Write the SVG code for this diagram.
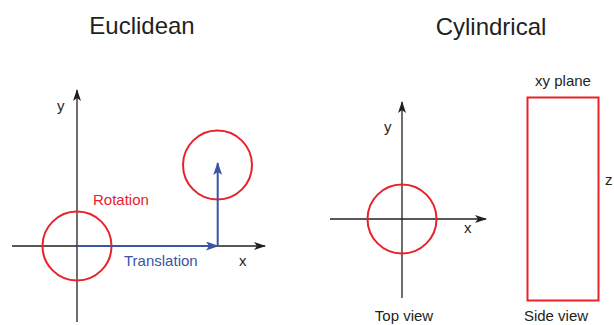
<svg xmlns="http://www.w3.org/2000/svg" width="614" height="325" viewBox="0 0 614 325">
<defs>
<style>
text{font-family:"Liberation Sans",Arial,sans-serif;fill:#231f20}
.title{font-size:24px;text-anchor:middle}
.lbl{font-size:15px}
.axis{stroke:#231f20;stroke-width:1.3;fill:none}
.red{stroke:#e8222b;stroke-width:2;fill:none}
.blue{stroke:#3b54a5;stroke-width:2;fill:none}
</style>
<marker id="ak" viewBox="0 0 12 8" refX="11" refY="4" markerWidth="12" markerHeight="8" markerUnits="userSpaceOnUse" orient="auto">
<path d="M0,0 L12,4 L0,8 L3,4 Z" fill="#231f20"/>
</marker>
<marker id="ab" viewBox="0 0 13 9" refX="12" refY="4.5" markerWidth="13" markerHeight="9" markerUnits="userSpaceOnUse" orient="auto">
<path d="M0,0 L13,4.5 L0,9 L3,4.5 Z" fill="#3b54a5"/>
</marker>
</defs>
<text class="title" x="142" y="34">Euclidean</text>
<text class="title" x="491" y="35">Cylindrical</text>
<g id="euclid-axes">
<line class="axis" x1="77" y1="322" x2="77" y2="90" marker-end="url(#ak)"/>
<line class="axis" x1="12" y1="246" x2="265" y2="246" marker-end="url(#ak)"/>
<text class="lbl" x="57" y="111">y</text>
<text class="lbl" x="239" y="266">x</text>
</g>
<g id="circle-origin"><circle class="red" cx="77" cy="246" r="34.5"/></g>
<g id="circle-moved"><circle class="red" cx="217.5" cy="165" r="34.5"/></g>
<g id="connectors">
<line class="blue" x1="77" y1="246" x2="218" y2="246" marker-end="url(#ab)"/>
<line class="blue" x1="217.7" y1="246" x2="217.7" y2="163" marker-end="url(#ab)"/>
</g>
<text class="lbl" x="93" y="205" style="fill:#e8222b">Rotation</text>
<text class="lbl" x="124" y="266" style="fill:#3b54a5">Translation</text>
<g id="top-view">
<line class="axis" x1="402" y1="298" x2="402" y2="102" marker-end="url(#ak)"/>
<line class="axis" x1="330" y1="219" x2="486" y2="219" marker-end="url(#ak)"/>
<circle class="red" cx="402" cy="219" r="34.5"/>
<text class="lbl" x="384" y="132">y</text>
<text class="lbl" x="464" y="233">x</text>
<text class="lbl" x="404" y="321" text-anchor="middle">Top view</text>
</g>
<g id="side-view">
<rect class="red" x="527.5" y="97.5" width="71" height="203"/>
<text class="lbl" x="563" y="86" text-anchor="middle">xy plane</text>
<text class="lbl" x="556" y="321" text-anchor="middle">Side view</text>
<text class="lbl" x="605" y="185">z</text>
</g>
</svg>
